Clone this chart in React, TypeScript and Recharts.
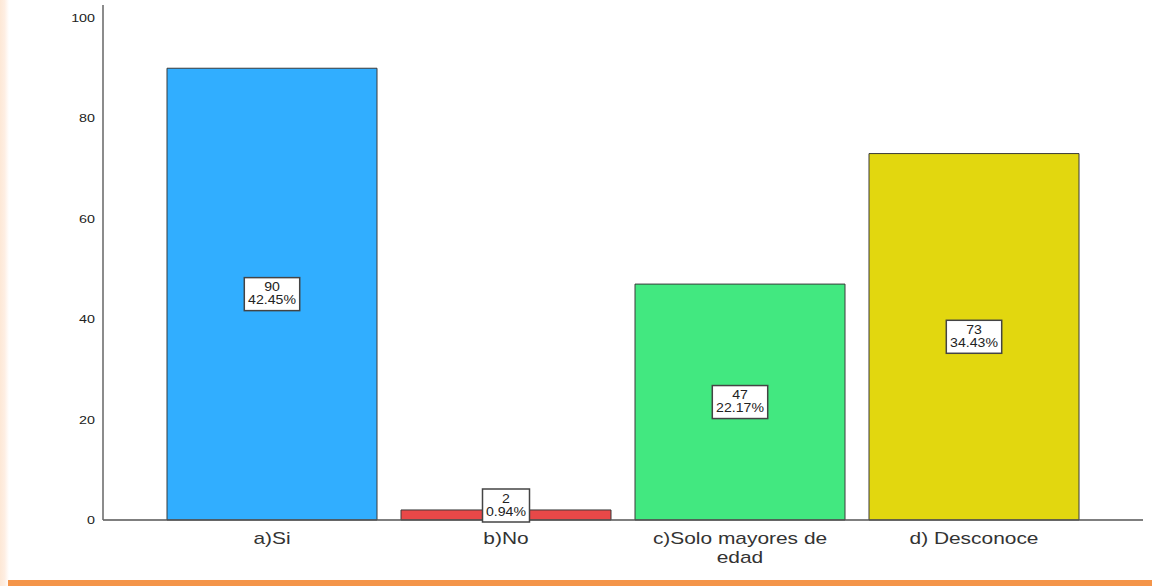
import React from "react";
import { BarChart, Bar, XAxis, YAxis, Cell, LabelList, Text } from "recharts";

const categories = ["a)Si", "b)No", "c)Solo mayores de edad", "d) Desconoce"];
const counts = [90, 2, 47, 73];
const barColors = ["#31aeff", "#e84848", "#42e880", "#e2d70f"];
const yTicks = [0, 20, 40, 60, 80, 100];

const total = counts.reduce((a, b) => a + b, 0);
const data = categories.map((name, i) => ({
  name,
  count: counts[i],
  pct: ((counts[i] / total) * 100).toFixed(2) + "%",
}));

const FONT = "'Liberation Sans', Arial, sans-serif";

// the reference text is a bit stretched sideways
function CategoryTick(props: any) {
  const { x, y, payload } = props;
  return (
    <g transform={`translate(${x},${y + 4}) scale(1.23,1)`}>
      <Text
        x={0}
        y={0}
        width={155}
        textAnchor="middle"
        verticalAnchor="start"
        style={{ fontSize: 17, fontFamily: FONT }}
        fontSize={17}
        fill="#333"
        fontFamily={FONT}
        lineHeight={19}
      >
        {payload.value}
      </Text>
    </g>
  );
}

function ValueTick(props: any) {
  const { x, y, payload } = props;
  return (
    <g transform={`translate(${x},${y}) scale(1.3,1)`}>
      <text x={0} y={0} dy={4} textAnchor="end" fontSize={11} fill="#222" fontFamily={FONT}>
        {payload.value}
      </text>
    </g>
  );
}

function BoxLabel(props: any) {
  const { x, y, width, height, index } = props;
  const d = data[index];
  const boxH = 33;
  const longest = Math.max(String(d.count).length, d.pct.length);
  const boxW = longest * 8.4 + 5;
  const cx = x + width / 2;
  const bottom = y + height;
  let cy = y + height / 2;
  if (cy + boxH / 2 > bottom + 2) cy = bottom + 2 - boxH / 2;
  return (
    <g>
      <rect
        x={cx - boxW / 2}
        y={cy - boxH / 2}
        width={boxW}
        height={boxH}
        fill="#fff"
        stroke="#444"
        strokeWidth={1.5}
      />
      <g transform={`translate(${cx},${cy}) scale(1.13,1)`}>
        <text x={0} y={-3} textAnchor="middle" fontSize={12.5} fill="#222" fontFamily={FONT}>
          {d.count}
        </text>
        <text x={0} y={10} textAnchor="middle" fontSize={12.5} fill="#222" fontFamily={FONT}>
          {d.pct}
        </text>
      </g>
    </g>
  );
}

export default function App() {
  return (
    <div style={{ position: "fixed", left: 0, top: 0, width: 1152, height: 586, background: "#fff", overflow: "hidden" }}>
      <div
        style={{
          position: "absolute",
          left: 0,
          top: 0,
          width: 9,
          height: 586,
          background: "linear-gradient(to right, #fde8d6, #feeee2 50%, #ffffff)",
        }}
      />
      <div style={{ position: "absolute", left: 8, top: 580, width: 1144, height: 6, background: "#f4954a" }} />
      <div style={{ position: "absolute", left: 0, top: 0 }}>
        <BarChart
          width={1152}
          height={586}
          data={data}
          margin={{ top: 5, right: 9, bottom: 36, left: 43 }}
          style={{ fontFamily: FONT }}
        >
          <XAxis
            dataKey="name"
            height={30}
            axisLine={{ stroke: "#555", strokeWidth: 1.5 }}
            tickLine={false}
            padding={{ left: 52, right: 52 }}
            tick={<CategoryTick />}
            interval={0}
          />
          <YAxis
            width={60}
            domain={[0, 102.6]}
            ticks={yTicks}
            axisLine={{ stroke: "#666", strokeWidth: 1.5 }}
            tickLine={false}
            tick={<ValueTick />}
          />
          <Bar dataKey="count" barSize={210} stroke="#3a3a3a" strokeWidth={1} isAnimationActive={false}>
            {data.map((d, i) => (
              <Cell key={d.name} fill={barColors[i]} />
            ))}
            <LabelList dataKey="count" content={<BoxLabel />} />
          </Bar>
        </BarChart>
      </div>
    </div>
  );
}
